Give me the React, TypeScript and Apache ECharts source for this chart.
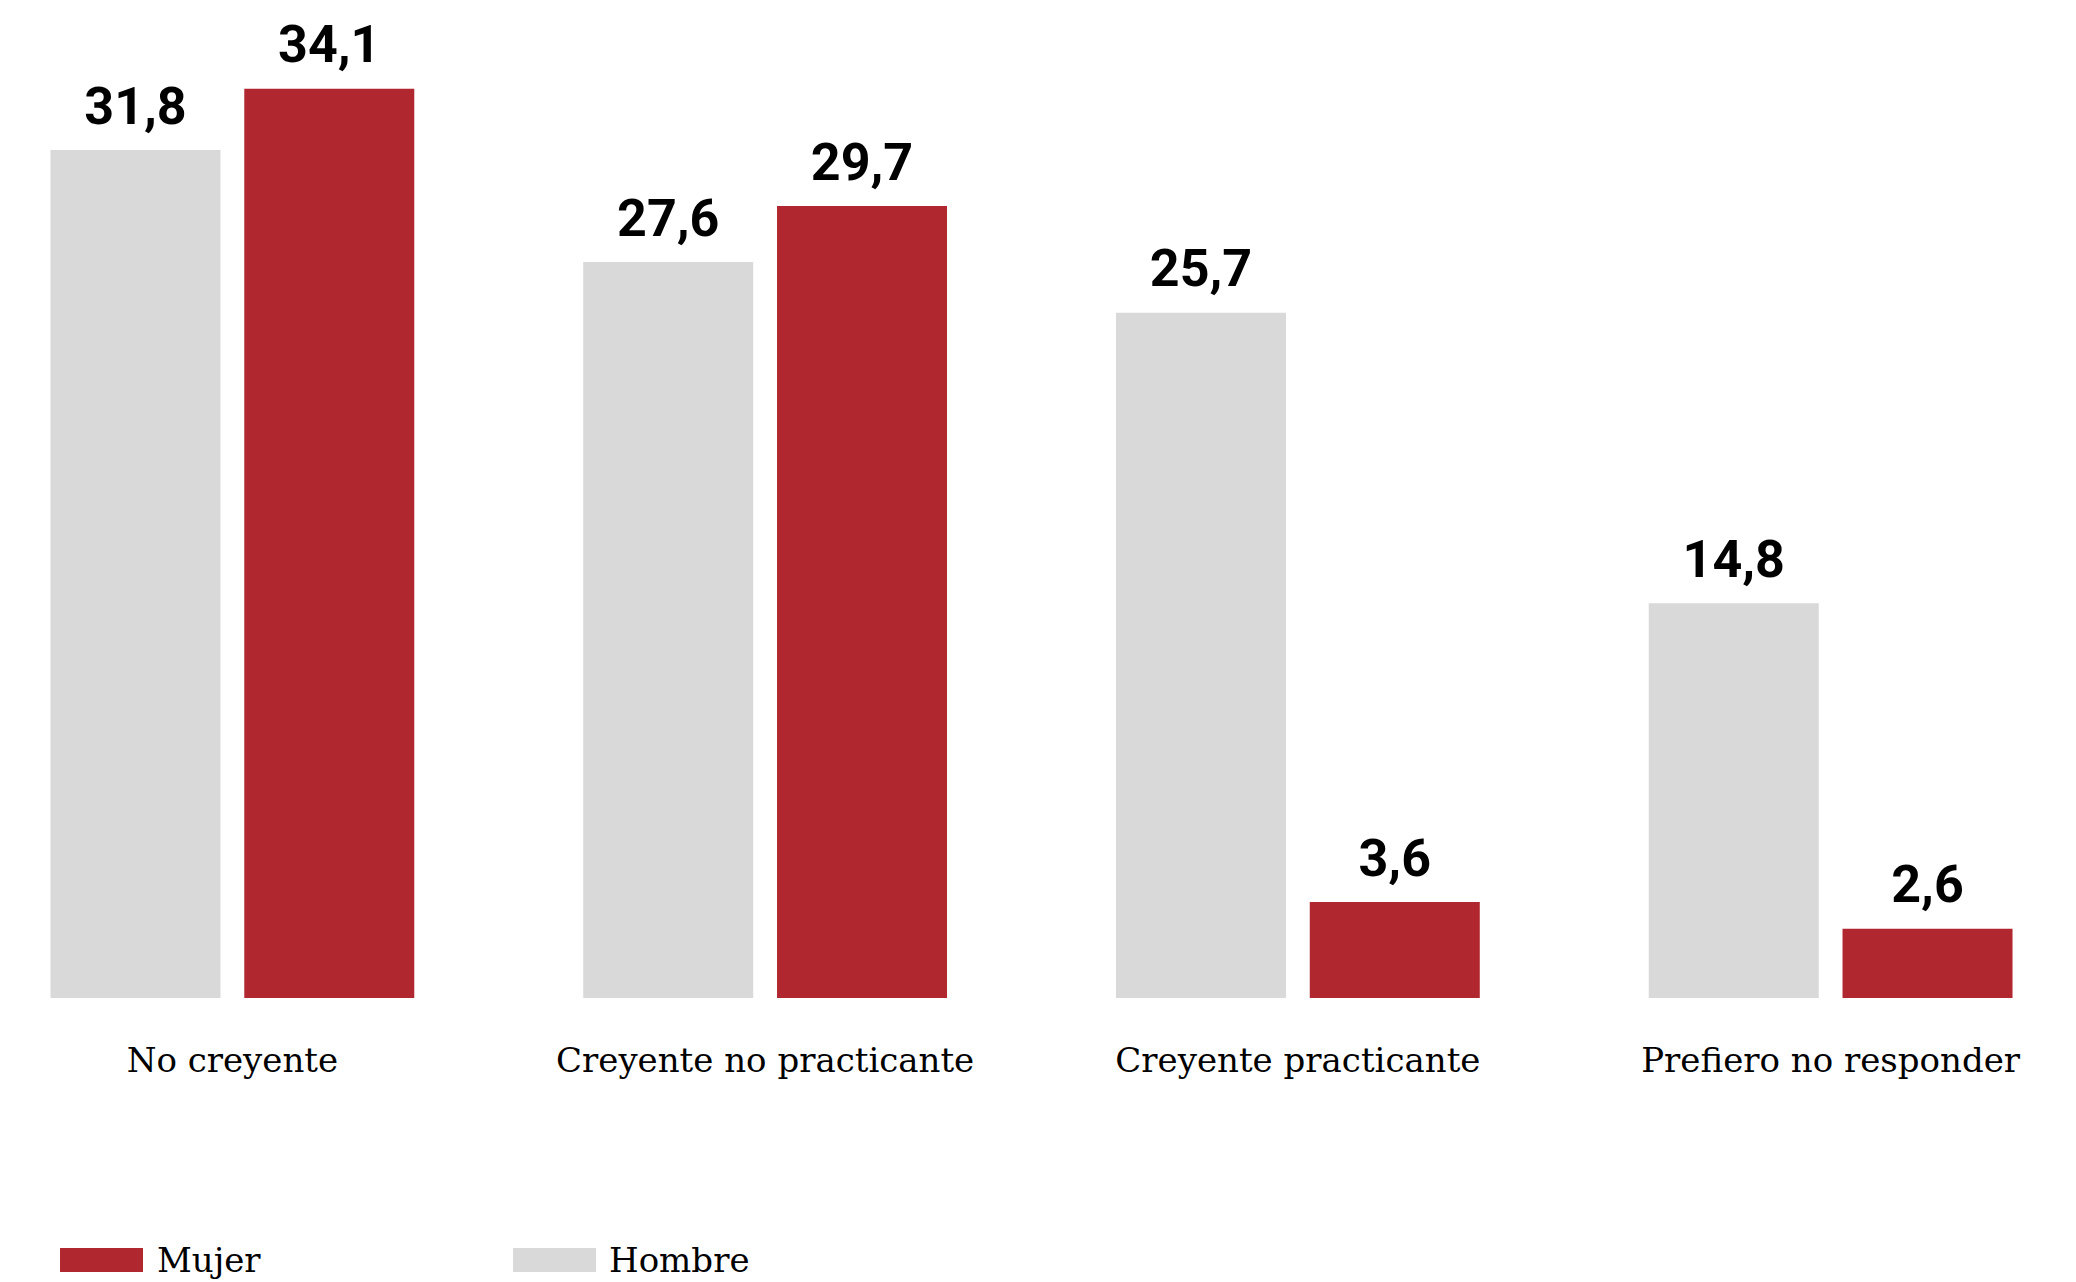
import React, { useEffect, useRef } from "react";
import * as echarts from "echarts";

const categories = ["No creyente", "Creyente no practicante", "Creyente practicante", "Prefiero no responder"];
const hombre = [31.8, 27.6, 25.7, 14.8];
const mujer = [34.1, 29.7, 3.6, 2.6];

const RED = "#B0272F";
const GRAY = "#D9D9D9";
const SERIF = "'Roboto Slab', 'DejaVu Serif', serif";
const fmt = (v: number) => v.toFixed(1).replace(".", ",");

const OFFSET_LEFT = 34;
const EXTRA_RIGHT = 21;

export default function App() {
  const ref = useRef<HTMLDivElement>(null);
  useEffect(() => {
    if (!ref.current) return;
    const chart = echarts.init(ref.current, undefined, { renderer: "svg" });
    const valueLabel = {
      show: true,
      position: "top" as const,
      distance: 18,
      fontFamily: "Roboto, sans-serif",
      fontWeight: "bold" as const,
      fontSize: 52,
      color: "#000",
      formatter: (p: any) => fmt(p.value),
    };
    chart.setOption({
      animation: false,
      backgroundColor: "#fff",
      legend: [
        {
          data: ["Mujer"],
          left: 60 + OFFSET_LEFT,
          top: 1243,
          padding: 0,
          itemWidth: 83,
          itemHeight: 24,
          icon: "rect",
          selectedMode: false,
          textStyle: { fontFamily: SERIF, fontSize: 34, color: "#000", padding: [0, 0, 0, 9] },
        },
        {
          data: ["Hombre"],
          left: 513 + OFFSET_LEFT,
          top: 1243,
          padding: 0,
          itemWidth: 83,
          itemHeight: 24,
          icon: "rect",
          selectedMode: false,
          textStyle: { fontFamily: SERIF, fontSize: 34, color: "#000", padding: [0, 0, 0, 8] },
        },
      ],
      grid: { left: 0, right: 0, top: 38, bottom: 284, containLabel: false },
      xAxis: {
        type: "category",
        data: categories,
        axisLine: { show: false },
        axisTick: { show: false },
        axisLabel: { fontFamily: SERIF, fontSize: 34, color: "#000", margin: 45, interval: 0 },
      },
      yAxis: { type: "value", min: 0, max: 36, show: false, splitLine: { show: false } },
      series: [
        {
          name: "Hombre",
          type: "bar",
          data: hombre,
          barWidth: 170,
          barGap: "14%",
          itemStyle: { color: GRAY },
          label: valueLabel,
        },
        {
          name: "Mujer",
          type: "bar",
          data: mujer,
          barWidth: 170,
          barGap: "14%",
          itemStyle: { color: RED },
          label: valueLabel,
        },
      ],
    });
    return () => chart.dispose();
  }, []);
  return (
    <div style={{ position: "fixed", left: 0, top: 0, width: 2076, height: 1282, overflow: "hidden", background: "#fff" }}>
      <div
        ref={ref}
        style={{ position: "absolute", left: -OFFSET_LEFT, top: 0, width: 2076 + OFFSET_LEFT + EXTRA_RIGHT, height: 1282 }}
      />
    </div>
  );
}
